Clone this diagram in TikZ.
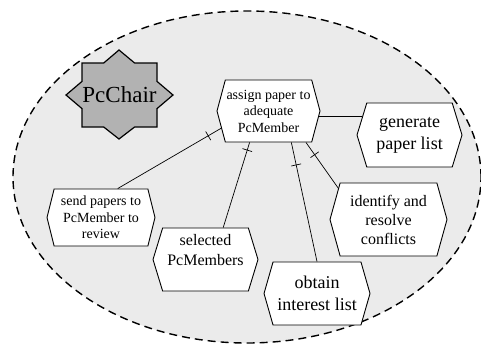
\documentclass[tikz,border=0pt]{standalone}
\usepackage{fontspec}
\setmainfont{Liberation Serif}
\usetikzlibrary{shapes.symbols,decorations.markings}

\tikzset{
  usecase/.style={signal, signal to=west and east, signal pointer angle=150,
    draw=black, line width=0.9pt, fill=white, inner sep=0pt, align=center},
  fs/.style 2 args={font=\fontsize{#1}{#2}\selectfont},
  link/.style={draw=black, line width=0.7pt},
  ticked/.style={postaction={decorate, decoration={markings,
    mark=at position #1 with {\draw[line width=0.7pt] (0,-5pt) -- (0,5pt);}}}},
  system/.style={fill=black!8, draw=black, line width=1.4pt, dash pattern=on 8pt off 5pt},
  actor/.style={fill=black!30, draw=black, line width=1.2pt, line join=miter},
}

\begin{document}
\begin{tikzpicture}[x=1pt, y=-1pt]
  \useasboundingbox (0,0) rectangle (481,343);

  % system boundary
  \path[system] (247,177) ellipse [x radius=234pt, y radius=166pt];

  % actor: eight-pointed star
  \path[actor] (66,95) -- (82,81.4) -- (82,63) -- (103.7,63) -- (119,50)
    -- (134.6,63) -- (157,63) -- (157,81.4) -- (173,95) -- (157,108.6)
    -- (157,127) -- (134.6,127) -- (119,139) -- (103.7,127) -- (82,127)
    -- (82,108.6) -- cycle;
  \node[fs={23}{27}] (chair) at (119.5,95) {PcChair};

  % use cases
  \node[usecase, fs={14}{16.5}, minimum width=103pt, minimum height=62pt] (assign)
    at (268.5,111) {assign paper to\\adequate\\PcMember};
  \node[usecase, fs={18}{22}, signal pointer angle=146, minimum width=105pt, minimum height=64pt] (generate)
    at (409.5,135) {generate\\paper list};
  \node[usecase, fs={14}{16.5}, signal pointer angle=152, minimum width=108pt, minimum height=57pt] (send)
    at (101,217.5) {send papers to\\PcMember to\\review};
  \node[usecase, fs={16}{20}, signal pointer angle=146, minimum width=105pt, minimum height=63pt] (selected)
    at (205.5,259.5) {selected\\PcMembers\\[-6pt]\strut};
  \node[usecase, fs={18}{22}, signal pointer angle=148, minimum width=106pt, minimum height=63pt] (obtain)
    at (317,293.5) {obtain\\interest list};
  \node[usecase, fs={16}{19}, signal pointer angle=149, minimum width=117pt, minimum height=73pt] (identify)
    at (388.5,219.5) {identify and\\resolve\\conflicts};

  % associations
  \draw[link] (assign.-6) -- (generate.159 |- assign.-6);
  \draw[link, ticked=15pt] (assign.200) -- (send.60);
  \draw[link, ticked=8pt] (assign.239) -- (selected.61);
  \draw[link, ticked=23pt] (assign.306) -- (obtain.90);
  \draw[link, ticked=15pt] (assign.320) -- (identify.148);
\end{tikzpicture}
\end{document}
